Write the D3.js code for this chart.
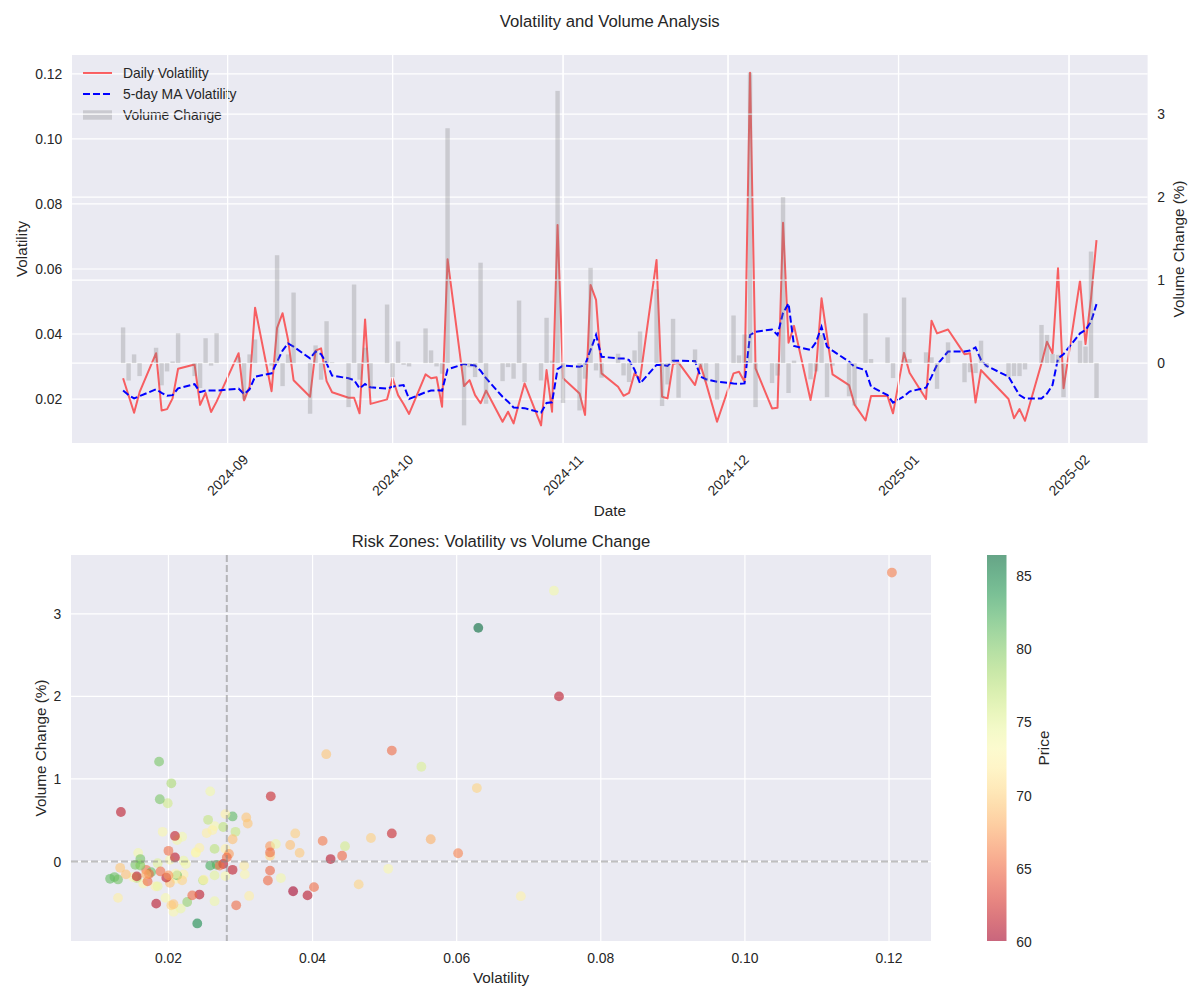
<!DOCTYPE html>
<html><head><meta charset="utf-8">
<script src="https://cdn.jsdelivr.net/npm/d3@7"></script>
<style>
body{margin:0;background:#fff;}
text{font-family:"Liberation Sans",Arial,"DejaVu Sans",sans-serif;fill:#262626;}
</style>
</head><body>
<svg id="c" width="1200" height="1000"></svg>
<script>
// ---------------- DATA ----------------
const dates = [
"2024-08-13","2024-08-14","2024-08-15","2024-08-16","2024-08-19","2024-08-20","2024-08-21","2024-08-22","2024-08-23","2024-08-26","2024-08-27","2024-08-28","2024-08-29","2024-08-30",
"2024-09-03","2024-09-04","2024-09-05","2024-09-06","2024-09-09","2024-09-10","2024-09-11","2024-09-12","2024-09-13","2024-09-16","2024-09-17","2024-09-18","2024-09-19","2024-09-20","2024-09-23","2024-09-24","2024-09-25","2024-09-26","2024-09-27","2024-09-30",
"2024-10-01","2024-10-02","2024-10-03","2024-10-04","2024-10-07","2024-10-08","2024-10-09","2024-10-10","2024-10-11","2024-10-14","2024-10-15","2024-10-16","2024-10-17","2024-10-18","2024-10-21","2024-10-22","2024-10-23","2024-10-24","2024-10-25","2024-10-28","2024-10-29","2024-10-30","2024-10-31",
"2024-11-01","2024-11-04","2024-11-05","2024-11-06","2024-11-07","2024-11-08","2024-11-11","2024-11-12","2024-11-13","2024-11-14","2024-11-15","2024-11-18","2024-11-19","2024-11-20","2024-11-21","2024-11-22","2024-11-25","2024-11-26","2024-11-27","2024-11-29",
"2024-12-02","2024-12-03","2024-12-04","2024-12-05","2024-12-06","2024-12-09","2024-12-10","2024-12-11","2024-12-12","2024-12-13","2024-12-16","2024-12-17","2024-12-18","2024-12-19","2024-12-20","2024-12-23","2024-12-24","2024-12-26","2024-12-27","2024-12-30","2024-12-31",
"2025-01-02","2025-01-03","2025-01-06","2025-01-07","2025-01-08","2025-01-10","2025-01-13","2025-01-14","2025-01-15","2025-01-16","2025-01-17","2025-01-21","2025-01-22","2025-01-23","2025-01-24","2025-01-27","2025-01-28","2025-01-29","2025-01-30","2025-01-31",
"2025-02-03","2025-02-04","2025-02-05","2025-02-06"];

const volatility = [
0.0264,0.0211,0.0158,0.0221,0.0341,0.0165,0.0169,0.0202,0.0293,0.0306,0.0182,0.0219,0.0160,0.0192,
0.0341,0.0196,0.0238,0.0481,0.0224,0.0419,0.0464,0.0382,0.0258,0.0207,0.0349,0.0356,0.0255,0.0221,0.0204,0.0204,0.0156,0.0445,0.0185,0.0199,
0.0264,0.0212,0.0185,0.0154,0.0276,0.0264,0.0267,0.0176,0.0630,0.0240,0.0258,0.0212,0.0187,0.0226,0.0130,0.0161,0.0125,0.0188,0.0248,0.0119,0.0289,0.0161,0.0735,
0.0264,0.0217,0.0151,0.0551,0.0505,0.0279,0.0238,0.0210,0.0219,0.0279,0.0261,0.0628,0.0207,0.0202,0.0308,0.0312,0.0243,0.0305,0.0249,0.0130,
0.0279,0.0284,0.0253,0.1204,0.0294,0.0171,0.0173,0.0742,0.0373,0.0425,0.0197,0.0289,0.0510,0.0393,0.0276,0.0243,0.0183,0.0134,0.0209,0.0209,0.0156,
0.0342,0.0281,0.0200,0.0441,0.0402,0.0414,0.0338,0.0341,0.0189,0.0289,0.0271,0.0200,0.0141,0.0169,0.0133,0.0310,0.0376,0.0341,0.0602,0.0233,
0.0564,0.0369,0.0510,0.0689];

const maVolatility = [
0.0226,0.0212,0.0202,0.0209,0.0230,0.0219,0.0210,0.0212,0.0233,0.0246,0.0221,0.0226,0.0226,0.0226,
0.0232,0.0215,0.0230,0.0269,0.0279,0.0315,0.0349,0.0371,0.0361,0.0325,0.0346,0.0338,0.0310,0.0272,0.0264,0.0258,0.0233,0.0246,0.0236,0.0232,
0.0238,0.0241,0.0243,0.0200,0.0221,0.0226,0.0227,0.0226,0.0291,0.0308,0.0305,0.0303,0.0287,0.0264,0.0207,0.0192,0.0174,0.0173,0.0172,0.0158,0.0188,0.0190,0.0292,
0.0303,0.0299,0.0305,0.0351,0.0397,0.0330,0.0325,0.0325,0.0320,0.0290,0.0248,0.0305,0.0305,0.0302,0.0318,0.0318,0.0317,0.0269,0.0261,0.0253,
0.0248,0.0247,0.0248,0.0397,0.0407,0.0414,0.0397,0.0465,0.0494,0.0363,0.0351,0.0375,0.0422,0.0361,0.0349,0.0315,0.0299,0.0289,0.0238,0.0212,0.0189,
0.0208,0.0223,0.0235,0.0269,0.0305,0.0346,0.0346,0.0349,0.0359,0.0320,0.0302,0.0269,0.0240,0.0212,0.0202,0.0202,0.0217,0.0243,0.0325,0.0338,
0.0402,0.0412,0.0438,0.0492];

const volumeChange = [
0.43,-0.21,0.105,-0.156,0.185,-0.268,-0.10,0.02,0.36,-0.156,-0.30,0.30,-0.03,0.36,
0.07,-0.44,0.105,0.285,-0.03,1.30,-0.277,0.105,0.85,-0.61,0.213,-0.20,0.505,0.01,-0.53,0.947,-0.20,0.185,-0.30,0.706,
-0.168,0.261,-0.02,-0.04,0.418,0.153,-0.04,-0.128,2.83,-0.75,-0.05,-0.168,1.21,-0.49,-0.217,-0.048,-0.188,0.754,-0.228,-0.209,0.546,0.03,3.28,
-0.48,-0.57,-0.188,1.148,-0.088,-0.176,0.113,-0.148,-0.228,0.153,0.381,0.89,-0.517,-0.257,0.534,-0.417,0.165,-0.05,-0.22,-0.44,
0.574,0.093,0.345,3.50,-0.53,-0.24,-0.15,2.0,-0.36,0.03,-0.195,-0.10,0.34,-0.41,-0.03,-0.40,-0.51,0.60,0.05,0.31,-0.18,
0.79,0.05,0.13,0.07,-0.31,0.25,-0.23,-0.11,-0.12,0.27,-0.05,-0.168,-0.156,-0.156,-0.076,0.46,0.34,0.11,0.10,-0.41,
0.27,0.20,1.344,-0.42];

const price = [
73.5,72.8,73.9,72.2,67.2,73.1,65.4,73.6,76.8,73.0,72.5,73.8,74.2,73.3,
70.2,73.4,72.9,69.8,73.7,69.2,70.1,69.4,74.0,73.2,74.3,74.1,77.0,74.4,70.0,78.2,76.9,76.1,74.6,76.3,
75.2,74.1,75.3,80.2,77.2,77.4,81.5,81.0,86.4,84.6,82.3,81.2,80.4,79.2,80.6,80.1,80.8,80.3,77.3,81.2,81.4,80.5,74.0,
74.2,74.4,73.2,75.6,73.1,73.4,73.0,72.8,70.1,72.4,72.2,70.0,69.3,69.1,69.2,72.0,72.1,71.8,72.3,72.0,
72.1,67.3,71.9,66.0,65.2,65.0,65.1,61.2,60.1,61.0,61.3,61.4,62.0,61.1,61.3,61.2,61.0,61.3,61.2,61.5,61.4,
62.0,65.1,65.3,65.0,65.2,65.8,65.1,64.9,65.3,69.0,65.4,67.2,69.1,68.2,69.3,69.2,69.8,65.2,66.2,65.1,
68.2,69.0,65.2,72.4];

const volThreshold = 0.0281;
const volTicks = [0.02,0.04,0.06,0.08,0.10,0.12];
const changeTicks = [0,1,2,3];
const priceTicks = [60,65,70,75,80,85];
const legendLabels = ["Daily Volatility","5-day MA Volatility","Volume Change"];

// ---------------- DRAW ----------------
const svg = d3.select("#c");
const BG = "#EAEAF2";
const TICKF = 13.9, LABF = 15.3, TITF = 16.7;

// ===== Top panel =====
const T = {l:72, r:1147.6, t:55, b:443};
const parse = d3.timeParse("%Y-%m-%d");
const dts = dates.map(parse);
const DAY = 864e5;
const [d0, d1] = d3.extent(dts);
const xlo = +d0 - 0.4*DAY, xhi = +d1 + 0.4*DAY, xpad = (xhi - xlo)*0.05;
const xT = d3.scaleTime().domain([new Date(xlo - xpad), new Date(xhi + xpad)]).range([T.l, T.r]);
const [v0, v1] = d3.extent(volatility); const vpad = (v1 - v0)*0.05;
const yL = d3.scaleLinear().domain([v0 - vpad, v1 + vpad]).range([T.b, T.t]);
const c0 = Math.min(0, d3.min(volumeChange)), c1 = Math.max(0, d3.max(volumeChange)); const cpad = (c1 - c0)*0.05;
const yR = d3.scaleLinear().domain([c0 - cpad, c1 + cpad]).range([T.b, T.t]);
const monthTicks = xT.ticks(d3.timeMonth.every(1));
const fmtMonth = d3.timeFormat("%Y-%m");

svg.append("rect").attr("x",T.l).attr("y",T.t).attr("width",T.r-T.l).attr("height",T.b-T.t).attr("fill",BG);
const gTop = svg.append("g");
function vgrid(g, ticks, scale, top, bot){
  g.selectAll(null).data(ticks).enter().append("line")
   .attr("x1",d=>scale(d)).attr("x2",d=>scale(d)).attr("y1",top).attr("y2",bot)
   .attr("stroke","#fff").attr("stroke-width",1.2);
}
function hgrid(g, ticks, scale, left, right){
  g.selectAll(null).data(ticks).enter().append("line")
   .attr("y1",d=>scale(d)).attr("y2",d=>scale(d)).attr("x1",left).attr("x2",right)
   .attr("stroke","#fff").attr("stroke-width",1.2);
}
vgrid(gTop, monthTicks, xT, T.t, T.b);
hgrid(gTop, volTicks, yL, T.l, T.r);

const lineVol = d3.line().x((d,i)=>xT(dts[i])).y(d=>yL(d));
gTop.append("path").attr("d", lineVol(volatility)).attr("fill","none")
  .attr("stroke","red").attr("stroke-opacity",0.6).attr("stroke-width",2).attr("stroke-linejoin","round");
gTop.append("path").attr("d", lineVol(maVolatility)).attr("fill","none")
  .attr("stroke","blue").attr("stroke-width",2).attr("stroke-dasharray","7,3");

// legend
const lg = gTop.append("g");
const lgY = [73, 94, 115];
lg.append("line").attr("x1",83).attr("x2",112).attr("y1",lgY[0]).attr("y2",lgY[0]).attr("stroke","red").attr("stroke-opacity",0.6).attr("stroke-width",2);
lg.append("line").attr("x1",83).attr("x2",112).attr("y1",lgY[1]).attr("y2",lgY[1]).attr("stroke","blue").attr("stroke-width",2).attr("stroke-dasharray","7,3");
lg.append("rect").attr("x",83).attr("y",lgY[2]-4.7).attr("width",29).attr("height",9.4).attr("fill","gray").attr("fill-opacity",0.3);
lg.selectAll("text.l").data(legendLabels).enter().append("text")
  .attr("x",123).attr("y",(d,i)=>lgY[i]).attr("dominant-baseline","central")
  .attr("font-size",TICKF).text(d=>d);

// ax2 grid on top
vgrid(gTop, monthTicks, xT, T.t, T.b);
hgrid(gTop, changeTicks, yR, T.l, T.r);

const bw = xT(new Date(+d0 + 0.8*DAY)) - xT(d0);
gTop.selectAll("rect.bar").data(volumeChange).enter().append("rect")
  .attr("x",(d,i)=>xT(dts[i]) - bw/2).attr("width",bw)
  .attr("y",d=>yR(Math.max(0,d))).attr("height",d=>Math.abs(yR(d)-yR(0)))
  .attr("fill","gray").attr("fill-opacity",0.3);

// ticks
svg.selectAll(null).data(volTicks).enter().append("text")
  .attr("x",T.l-9.7).attr("y",d=>yL(d)).attr("text-anchor","end").attr("dominant-baseline","central")
  .attr("font-size",TICKF).text(d=>d3.format(".2f")(d));
svg.selectAll(null).data(changeTicks).enter().append("text")
  .attr("x",T.r+9.7).attr("y",d=>yR(d)).attr("text-anchor","start").attr("dominant-baseline","central")
  .attr("font-size",TICKF).text(d=>d);
svg.selectAll(null).data(monthTicks).enter().append("text")
  .attr("x",d=>xT(d)).attr("y",475).attr("text-anchor","middle").attr("dominant-baseline","central")
  .attr("transform",d=>`rotate(-45,${xT(d)},475)`)
  .attr("font-size",TICKF).text(d=>fmtMonth(d));
svg.append("text").attr("x",(T.l+T.r)/2).attr("y",510).attr("text-anchor","middle").attr("dominant-baseline","central")
  .attr("font-size",LABF).text("Date");
svg.append("text").attr("transform",`translate(21,${(T.t+T.b)/2}) rotate(-90)`).attr("text-anchor","middle").attr("dominant-baseline","central")
  .attr("font-size",LABF).text("Volatility");
svg.append("text").attr("transform",`translate(1178,${(T.t+T.b)/2}) rotate(-90)`).attr("text-anchor","middle").attr("dominant-baseline","central")
  .attr("font-size",LABF).text("Volume Change (%)");
svg.append("text").attr("x",(T.l+T.r)/2).attr("y",T.t-27.8).attr("text-anchor","middle")
  .attr("font-size",TITF).text("Volatility and Volume Analysis");

// ===== Bottom panel =====
const B = {l:71, r:931, t:555, b:941};
const xS = d3.scaleLinear().domain([v0 - vpad, v1 + vpad]).range([B.l, B.r]);
const yS = d3.scaleLinear().domain([c0 - cpad, c1 + cpad]).range([B.b, B.t]);
const color = d3.scaleSequential(d3.interpolateRdYlGn).domain(d3.extent(price));

svg.append("rect").attr("x",B.l).attr("y",B.t).attr("width",B.r-B.l).attr("height",B.b-B.t).attr("fill",BG);
const gB = svg.append("g");
vgrid(gB, volTicks, xS, B.t, B.b);
hgrid(gB, changeTicks, yS, B.l, B.r);

gB.selectAll("circle").data(volatility).enter().append("circle")
  .attr("cx",d=>xS(d)).attr("cy",(d,i)=>yS(volumeChange[i])).attr("r",4.9)
  .attr("fill",(d,i)=>color(price[i])).attr("fill-opacity",0.6);

gB.append("line").attr("x1",B.l).attr("x2",B.r).attr("y1",yS(0)).attr("y2",yS(0))
  .attr("stroke","gray").attr("stroke-opacity",0.5).attr("stroke-width",2).attr("stroke-dasharray","7,3");
gB.append("line").attr("x1",xS(volThreshold)).attr("x2",xS(volThreshold)).attr("y1",B.t).attr("y2",B.b)
  .attr("stroke","gray").attr("stroke-opacity",0.5).attr("stroke-width",2).attr("stroke-dasharray","7,3");

svg.selectAll(null).data(volTicks).enter().append("text")
  .attr("x",d=>xS(d)).attr("y",B.b+16.5).attr("text-anchor","middle").attr("dominant-baseline","central")
  .attr("font-size",TICKF).text(d=>d3.format(".2f")(d));
svg.selectAll(null).data(changeTicks).enter().append("text")
  .attr("x",B.l-9.7).attr("y",d=>yS(d)).attr("text-anchor","end").attr("dominant-baseline","central")
  .attr("font-size",TICKF).text(d=>d);
svg.append("text").attr("x",(B.l+B.r)/2).attr("y",977).attr("text-anchor","middle").attr("dominant-baseline","central")
  .attr("font-size",LABF).text("Volatility");
svg.append("text").attr("transform",`translate(40,${(B.t+B.b)/2}) rotate(-90)`).attr("text-anchor","middle").attr("dominant-baseline","central")
  .attr("font-size",LABF).text("Volume Change (%)");
svg.append("text").attr("x",(B.l+B.r)/2).attr("y",B.t-8.3).attr("text-anchor","middle")
  .attr("font-size",TITF).text("Risk Zones: Volatility vs Volume Change");

// colorbar
const CB = {x:987, w:19.5, t:555, b:941};
const yC = d3.scaleLinear().domain(d3.extent(price)).range([CB.b, CB.t]);
const defs = svg.append("defs");
const grad = defs.append("linearGradient").attr("id","cbg").attr("x1",0).attr("y1",1).attr("x2",0).attr("y2",0);
d3.range(0,1.0001,0.05).forEach(t=>{
  grad.append("stop").attr("offset",t).attr("stop-color",d3.interpolateRdYlGn(t));
});
svg.append("rect").attr("x",CB.x).attr("y",CB.t).attr("width",CB.w).attr("height",CB.b-CB.t)
  .attr("fill","url(#cbg)").attr("fill-opacity",0.6);
svg.selectAll(null).data(priceTicks).enter().append("text")
  .attr("x",CB.x+CB.w+9.7).attr("y",d=>yC(d)).attr("dominant-baseline","central")
  .attr("font-size",TICKF).text(d=>d);
svg.append("text").attr("transform",`translate(1043,${(CB.t+CB.b)/2}) rotate(-90)`).attr("text-anchor","middle").attr("dominant-baseline","central")
  .attr("font-size",LABF).text("Price");
</script>
</body></html>
